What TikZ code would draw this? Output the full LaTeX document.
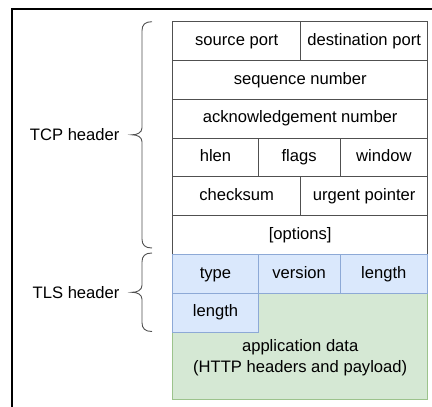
\documentclass[tikz,border=0pt]{standalone}
\usepackage{fontspec}
\setmainfont{Liberation Sans}
\usepackage{xcolor}

\definecolor{tlsfill}{HTML}{DAE8FC}
\definecolor{tlsline}{HTML}{8DA9D6}
\definecolor{appfill}{HTML}{D5E8D4}
\definecolor{appline}{HTML}{9CC38C}
\definecolor{gridline}{HTML}{505050}

\begin{document}
\begin{tikzpicture}[x=1pt, y=-1pt, font=\fontsize{16.6}{21}\selectfont,
  cell/.style={rectangle, draw=gridline, line width=0.9pt, minimum height=38.8pt, inner sep=0pt, text height=12pt, text depth=3.5pt, text centered},
  tlscell/.style={cell, draw=tlsline, fill=tlsfill},
  appcell/.style={rectangle, draw=appline, fill=appfill, line width=0.9pt, inner sep=0pt},
  headbrace/.style={draw=gridline, line width=0.9pt}]
\useasboundingbox (0,0) rectangle (432,407);

% frame, cut by the page edge
\draw[line width=2pt] (12,420) -- (12,9) -- (440,9);

% application data sits under the second TLS row
\node (app) [appcell, minimum width=255pt, minimum height=105.7pt] at (300.2,346.15) {};
\node (apptext) [align=center] at (300.2,358) {application data\\(HTTP headers and payload)};

% TCP header
\node (srcport) [cell, minimum width=128pt] at (236.7,41.1) {source port};
\node (dstport) [cell, minimum width=127pt] at (364.2,41.1) {destination port};
\node (seqnum) [cell, minimum width=255pt] at (300.2,79.9) {sequence number};
\node (acknum) [cell, minimum width=255pt] at (300.2,118.7) {acknowledgement number};
\node (hlen) [cell, minimum width=85.6pt] at (215.5,157.5) {hlen};
\node (flags) [cell, minimum width=81.7pt] at (299.15,157.5) {flags};
\node (window) [cell, minimum width=87.7pt] at (383.85,157.5) {window};
\node (checksum) [cell, minimum width=128pt] at (236.7,196.3) {checksum};
\node (urgent) [cell, minimum width=127pt] at (364.2,196.3) {urgent pointer};
\node (options) [cell, minimum width=255pt] at (300.2,235.1) {[options]};

% TLS header
\node (type) [tlscell, minimum width=85.6pt] at (215.5,273.9) {type};
\node (version) [tlscell, minimum width=81.7pt] at (299.15,273.9) {version};
\node (reclen) [tlscell, minimum width=87.7pt] at (383.85,273.9) {length};
\node (msglen) [tlscell, minimum width=85.6pt] at (215.5,312.7) {length};

% braces and their labels
\draw[headbrace] (152,21.7) .. controls (145,21.7) and (142,24.7) .. (142,30.7)
  -- (142,127.8) .. controls (142,132.8) and (137,134.8) .. (132,134.8)
  .. controls (137,134.8) and (142,136.8) .. (142,141.8)
  -- (142,239) .. controls (142,245) and (145,248) .. (152,248);
\draw[headbrace] (152,253) .. controls (145,253) and (142,256) .. (142,262)
  -- (142,285.3) .. controls (142,290.3) and (137,292.3) .. (132,292.3)
  .. controls (137,292.3) and (142,294.3) .. (142,299.3)
  -- (142,322.5) .. controls (142,328.5) and (145,331.5) .. (152,331.5);
\node (tcplabel) [anchor=east] at (123,134.8) {TCP header};
\node (tlslabel) [anchor=east] at (123,292.3) {TLS header};
\end{tikzpicture}
\end{document}
